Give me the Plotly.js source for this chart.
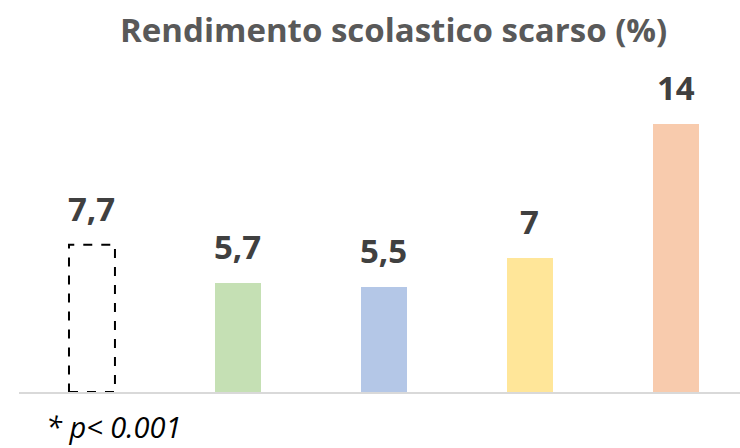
<!DOCTYPE html>
<html><head><meta charset="utf-8">
<script src="https://cdn.plot.ly/plotly-3.0.1.min.js"></script>
<style>html,body{margin:0;padding:0;background:#fff}#c{width:740px;height:448px}</style>
</head><body><div id="c"></div>
<script>
const categories = ["A","B","C","D","E"];
const values = [7.7, 5.7, 5.5, 7, 14];
const labels = ["7,7","5,7","5,5","7","14"];
const colors = ["rgba(0,0,0,0)","#C5E0B4","#B4C7E7","#FFE699","#F8CBAD"];
const footnote = "* p< 0.001";
const titleText = "Rendimento scolastico scarso (%)";

const barW = 0.315;
const xs = categories.map((c,i)=>i);

const trace = {
  type: 'bar', x: xs, y: values, width: barW,
  marker: {color: colors, line: {width: 0}},
  hoverinfo: 'none'
};

const shapes = [{
  type: 'rect', xref: 'x', yref: 'y',
  x0: xs[0]-barW/2, x1: xs[0]+barW/2, y0: 0, y1: values[0],
  line: {color: '#000', width: 2, dash: 'dash'}, fillcolor: 'rgba(0,0,0,0)'
}];

const annotations = xs.map((x,i)=>({
  x: x, y: values[i], xref: 'x', yref: 'y', text: '<b>' + labels[i] + '</b>', showarrow: false,
  yanchor: 'bottom', yshift: 12,
  font: {family: 'Open Sans, Liberation Sans, sans-serif', size: 33, color: '#404040'}
}));
annotations.push({
  xref: 'paper', yref: 'paper', x: 25/721, y: -34/332, xanchor: 'left', yanchor: 'middle',
  text: '<i>' + footnote + '</i>', showarrow: false,
  font: {family: 'Open Sans, Liberation Sans, sans-serif', size: 29, color: '#000'}
});

const layout = {
  width: 740, height: 448,
  margin: {l: 19, r: 0, t: 60, b: 56},
  paper_bgcolor: '#fff', plot_bgcolor: '#fff',
  title: {text: '<b>' + titleText + '</b>', xref: 'container', x: 0.532, xanchor: 'center',
          yref: 'container', y: 0.932, yanchor: 'middle',
          font: {family: 'Open Sans, Liberation Sans, sans-serif', size: 33, color: '#595959'}},
  xaxis: {range: [-0.5, 4.44], showticklabels: false, ticks: '', showgrid: false, zeroline: false,
          showline: true, linecolor: '#D9D9D9', linewidth: 1.5, fixedrange: true},
  yaxis: {range: [0, 17.35], visible: false, showgrid: false, zeroline: false, fixedrange: true},
  shapes: shapes, annotations: annotations, showlegend: false, bargap: 0
};
Plotly.newPlot('c', [trace], layout, {staticPlot: true, displayModeBar: false});
</script></body></html>
